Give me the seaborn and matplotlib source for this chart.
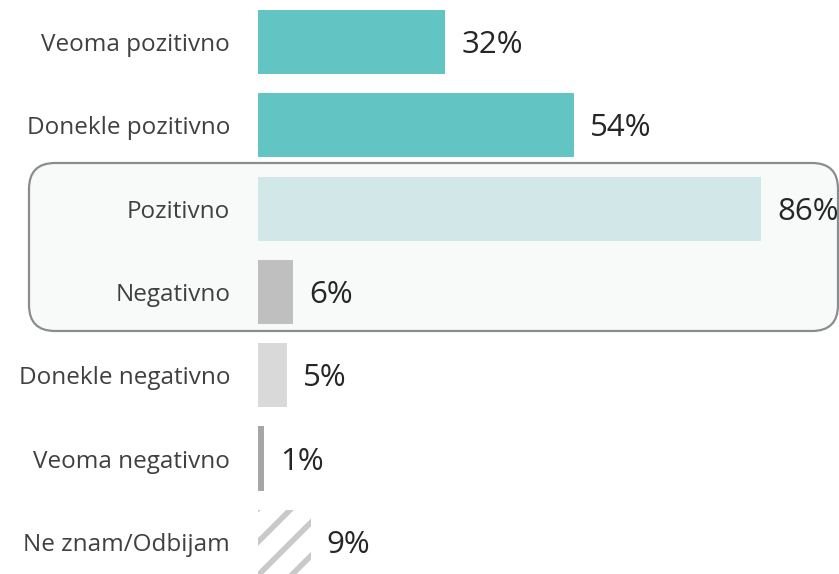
import matplotlib
matplotlib.use("Agg")
import matplotlib.pyplot as plt
from matplotlib.patches import FancyBboxPatch
from matplotlib.transforms import IdentityTransform
import seaborn as sns
import pandas as pd

categories = ["Veoma pozitivno", "Donekle pozitivno", "Pozitivno", "Negativno",
              "Donekle negativno", "Veoma negativno", "Ne znam/Odbijam"]
values = [32, 54, 86, 6, 5, 1, 9]
value_labels = ["32%", "54%", "86%", "6%", "5%", "1%", "9%"]
bar_colors = ["#62C5C3", "#62C5C3", "#D1E7E8", "#BFBFBF", "#D9D9D9", "#A6A6A6", "#FFFFFF"]

sns.set_theme(style="white")
plt.rcParams["font.family"] = ["Open Sans", "DejaVu Sans"]
plt.rcParams["hatch.linewidth"] = 4.0

W, H, DPI = 839, 574, 100
fig = plt.figure(figsize=(W / DPI, H / DPI), dpi=DPI)
x0_px = 258
px_per_unit = 5.85
row_px = 83.3
first_center_px = 42
ax = fig.add_axes([x0_px / W, 0, (W - x0_px) / W, 1])

df = pd.DataFrame({"cat": categories, "val": values})
sns.barplot(data=df, x="val", y="cat", hue="cat", palette=bar_colors,
            legend=False, width=0.77, ax=ax, saturation=1, zorder=3)

ax.set_xlim(0, (W - x0_px) / px_per_unit)
top = -first_center_px / row_px
bottom = (H - first_center_px) / row_px
ax.set_ylim(bottom, top)

patches = ax.patches
for p in patches:
    p.set_linewidth(0)
# hatched bar for the last row
patches[-1].set_hatch("/")
patches[-1].set_edgecolor("#C9C9C9")

for i, (v, lab) in enumerate(zip(values, value_labels)):
    ax.annotate(lab, xy=(v, i), xytext=(16, -3), textcoords="offset pixels",
                ha="left", va="center", fontsize=22.5, color="#262626")

ax.set_xlabel("")
ax.set_ylabel("")
ax.set_xticks([])
ax.tick_params(axis="y", length=0, pad=20, labelsize=17.5, labelcolor="#404040")
for s in ax.spines.values():
    s.set_visible(False)
ax.patch.set_alpha(0)

# rounded frame around the summary rows
box = FancyBboxPatch((29, H - 331), 809, 168,
                     boxstyle="round,pad=0,rounding_size=26",
                     transform=IdentityTransform(), facecolor="#F8FAFA",
                     edgecolor="#8A8D8F", linewidth=1.6, zorder=0, clip_on=False)
ax.add_artist(box)

fig.savefig("out.png", dpi=DPI)
